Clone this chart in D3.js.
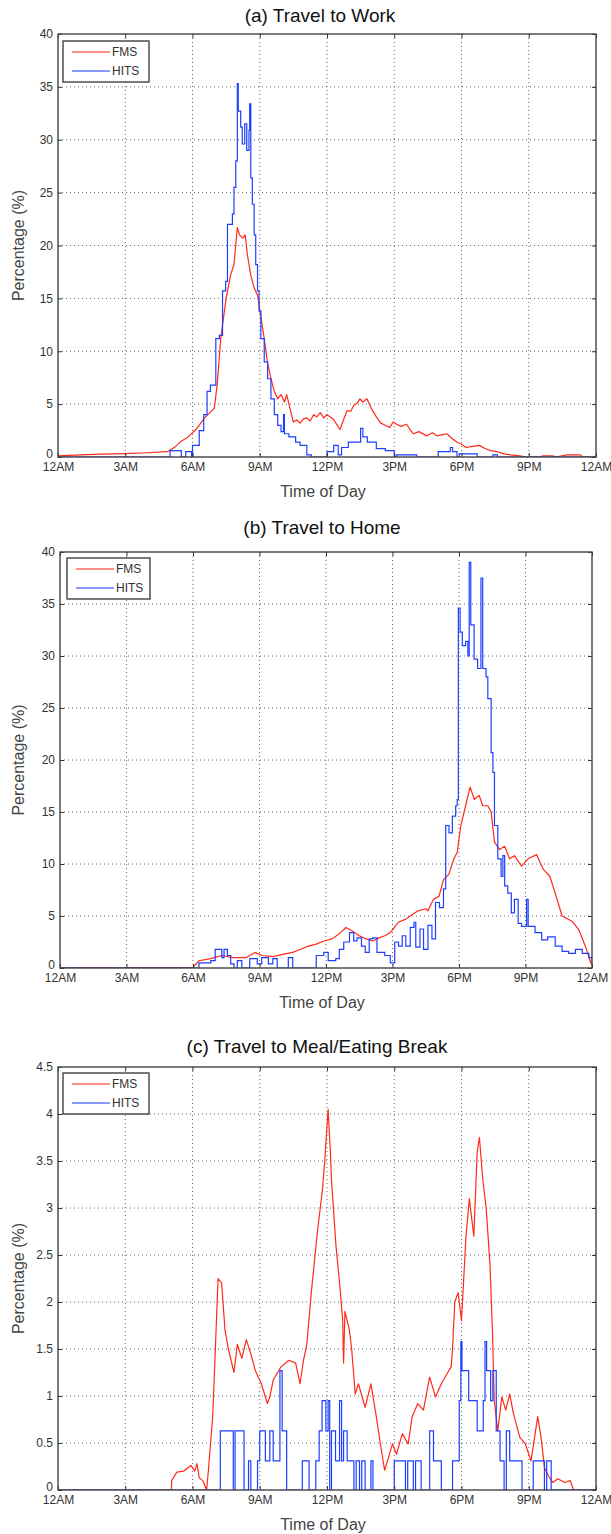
<!DOCTYPE html>
<html>
<head>
<meta charset="utf-8">
<script src="https://cdn.jsdelivr.net/npm/d3@7"></script>
<style>
  body { margin: 0; background: #fff; }
  svg { display: block; font-family: "Liberation Sans", Arial, Helvetica, sans-serif; }
</style>
</head>
<body>
<svg id="chart" width="611" height="1534"></svg>
<script>
// time of day in hours, value in percent

const hourTicks = [0, 3, 6, 9, 12, 15, 18, 21, 24];
const hourLabels = ['12AM', '3AM', '6AM', '9AM', '12PM', '3PM', '6PM', '9PM', '12AM'];
const seriesNames = ['FMS', 'HITS'];

// (a) travel to work
const workFMS = [[0,0.1],[0.5,0.15],[1,0.2],[2,0.28],[3,0.32],[4,0.4],[4.86,0.5],[5.05,0.7],[5.25,1.0],[5.5,1.5],[5.8,1.9],
  [6.2,2.7],[6.5,3.6],[6.97,4.6],[7.1,6.8],[7.26,11.2],[7.5,15],[7.7,17.2],[7.85,18.2],[8.0,21.7],[8.1,21],[8.25,20.7],
  [8.35,21],[8.45,19.1],[8.6,17.2],[8.75,16],[8.9,15.3],[9.04,13.4],[9.2,11.2],[9.34,9],[9.5,7.4],[9.65,6.2],[9.8,5.5],
  [9.95,5.9],[10.1,5.2],[10.2,5.9],[10.35,4.6],[10.5,3.3],[10.65,3.5],[10.8,3.2],[10.95,3.6],[11.1,3.7],[11.25,3.4],
  [11.4,4.0],[11.55,3.8],[11.7,4.2],[11.85,3.7],[12.0,4.0],[12.27,3.6],[12.58,2.6],[12.75,3.6],[12.9,4.4],[13.05,4.3],
  [13.2,4.9],[13.35,5.1],[13.47,5.5],[13.6,5.2],[13.78,5.5],[14.0,4.5],[14.2,3.8],[14.4,3.2],[14.6,3.0],[14.8,2.8],
  [14.95,3.3],[15.1,3.1],[15.3,2.9],[15.55,3.1],[15.7,2.6],[15.85,2.2],[16.1,2.4],[16.45,2.0],[16.7,2.3],[16.9,2.0],
  [17.1,2.1],[17.35,2.2],[17.55,1.8],[17.8,1.4],[18.0,1.2],[18.2,0.9],[18.5,1.0],[18.8,1.1],[19.05,0.8],[19.3,0.6],
  [19.6,0.5],[19.9,0.3],[20.2,0.2],[20.6,0.1],[20.9,0],[21.5,0],[21.6,0.1],[22.1,0.1],[22.2,0],[22.7,0.2],[23.3,0.2],
  [23.4,0],[24,0]];
const workHITS = [[0,0],[5.0,0.6],[5.5,0],[5.7,0.5],[5.96,0],[6.0,1.1],[6.3,2.5],[6.5,4],[6.65,6.2],[6.8,6.8],[7.04,11.2],
  [7.2,11.5],[7.34,15.7],[7.48,16.6],[7.56,22],[7.78,23],[7.85,25.5],[7.93,28],[8.0,35.3],[8.04,32.7],[8.15,31.2],
  [8.22,29.6],[8.33,31.5],[8.42,29],[8.52,30.9],[8.55,33.4],[8.6,26.4],[8.67,23.9],[8.75,21],[8.82,18.2],[8.9,15.7],
  [8.97,13.8],[9.05,11.2],[9.2,9],[9.35,7.4],[9.5,5.5],[9.65,4],[9.8,3],[9.95,2.4],[10.06,4],[10.1,2.2],[10.3,1.9],
  [10.6,1.4],[10.8,1.1],[11.1,0.2],[11.3,0],[12.0,0.5],[12.3,1.1],[12.5,0.2],[12.65,0.9],[12.95,1.4],[13.5,2.7],
  [13.6,1.9],[13.8,1.4],[14.2,0.8],[14.6,0.6],[15.0,0],[15.1,0.2],[16.0,0],[16.96,0.5],[17.5,0.9],[17.6,0.5],[17.8,0],
  [17.9,0.3],[18.7,0],[19.4,0.2],[19.6,0],[24,0]];

// (b) travel to home
const homeFMS = [[0,0],[1.3,0.05],[2.4,0.05],[2.5,0],[3.0,0.05],[6.0,0.05],[6.27,0.7],[6.8,0.9],[7.3,1.2],[7.8,1.0],
  [8.4,1.0],[8.8,1.5],[9.1,1.2],[9.6,1.1],[10.15,1.35],[10.5,1.5],[10.85,1.8],[11.2,2.1],[11.56,2.3],[11.9,2.6],
  [12.27,2.8],[12.6,3.3],[12.9,3.9],[13.15,3.6],[13.5,3.1],[13.8,2.8],[14.1,2.6],[14.4,2.9],[14.65,3.1],[14.9,3.4],
  [15.27,4.4],[15.6,4.7],[15.8,5.0],[16.15,5.5],[16.5,5.7],[16.6,5.5],[16.85,6.6],[17.1,6.9],[17.3,8.5],[17.54,9.0],
  [17.77,10.5],[17.92,11.1],[18.08,13.7],[18.3,15.6],[18.5,17.4],[18.69,16.2],[18.91,16.6],[19.07,15.6],[19.3,15.6],
  [19.45,15],[19.6,12.1],[19.83,11.4],[20.06,11.7],[20.28,10.5],[20.5,10.8],[20.82,9.8],[21.12,10.5],[21.5,10.9],
  [21.8,9.5],[22.1,8.8],[22.34,7.2],[22.65,5.0],[23.1,4.5],[23.4,3.7],[23.7,2.1],[23.94,0.5],[24,0.3]];
const homeHITS = [[0,0],[6.27,0.5],[6.8,0.7],[7.0,1.8],[7.3,1.0],[7.4,1.8],[7.55,1.2],[7.7,0.4],[7.85,0],[8.0,0.7],
  [8.2,0],[8.56,0.9],[8.9,0.4],[9.1,1.0],[9.4,0.4],[9.6,0.9],[9.8,0],[10.3,1.0],[10.5,0],[11.56,1.2],[11.9,1.5],
  [12.1,0.7],[12.44,0.9],[12.6,1.8],[12.8,2.5],[13.06,3.4],[13.25,2.6],[13.4,2.9],[13.6,2.1],[13.77,1.5],[13.95,2.8],
  [14.1,2.9],[14.3,1.5],[14.65,1.2],[14.9,0.5],[15.1,2.5],[15.27,2.1],[15.44,3.1],[15.6,2.1],[15.8,3.9],[15.97,4.4],
  [16.05,2.0],[16.24,3.75],[16.4,1.8],[16.6,4.1],[16.78,2.8],[16.94,6.3],[17.12,5.8],[17.3,7.6],[17.4,13.7],[17.55,13],
  [17.7,14.6],[17.85,15.6],[17.92,16.2],[17.97,34.6],[18.05,32.3],[18.15,31],[18.3,31.4],[18.4,30],[18.46,39],[18.53,33],
  [18.68,29.7],[18.84,28.8],[18.99,37.5],[19.07,28.8],[19.22,28],[19.3,25.9],[19.45,20.7],[19.53,18.8],[19.6,13.7],
  [19.75,10.5],[19.9,8.8],[19.98,10.8],[20.06,7.9],[20.2,7.2],[20.36,5.3],[20.5,6.6],[20.67,4.3],[20.82,4.0],[21.05,6.6],
  [21.12,4.0],[21.43,3.4],[21.73,2.7],[22.0,3.0],[22.34,2.1],[22.65,1.6],[22.95,1.4],[23.25,1.8],[23.56,1.4],[23.86,1.0],
  [24,0.6]];

// (c) travel to meal/eating break
const mealFMS = [[0,0],[5.06,0],[5.07,0.1],[5.3,0.19],[5.6,0.2],[5.93,0.26],[6.1,0.2],[6.2,0.28],[6.3,0.13],[6.46,0.1],
  [6.63,0],[6.72,0.24],[6.9,0.78],[7.0,1.38],[7.14,2.25],[7.3,2.2],[7.45,1.7],[7.6,1.5],[7.85,1.25],[8.0,1.55],[8.2,1.4],
  [8.4,1.6],[8.6,1.45],[8.8,1.27],[9.07,1.13],[9.34,0.92],[9.45,0.99],[9.6,1.17],[9.95,1.31],[10.3,1.38],[10.6,1.35],
  [10.8,1.13],[10.95,1.38],[11.1,1.55],[11.3,2.1],[11.55,2.7],[11.8,3.2],[11.9,3.5],[11.98,3.8],[12.05,4.05],[12.15,3.6],
  [12.2,3.3],[12.4,2.6],[12.6,2.1],[12.7,1.8],[12.74,1.35],[12.8,1.9],[13.0,1.7],[13.1,1.5],[13.26,1.02],[13.4,1.13],
  [13.7,0.88],[13.96,1.13],[14.2,0.78],[14.38,0.49],[14.57,0.21],[14.75,0.35],[14.92,0.49],[15.1,0.38],[15.36,0.6],
  [15.62,0.49],[15.8,0.78],[16.05,0.92],[16.3,0.85],[16.58,1.2],[16.84,0.99],[17.1,1.13],[17.36,1.24],[17.54,1.31],
  [17.6,1.5],[17.7,2.0],[17.85,2.1],[18.0,1.8],[18.2,2.7],[18.35,3.1],[18.55,2.7],[18.7,3.6],[18.8,3.75],[18.95,3.3],
  [19.1,3.0],[19.27,2.4],[19.38,1.7],[19.46,0.95],[19.62,0.63],[19.8,0.99],[19.97,0.85],[20.15,1.02],[20.32,0.81],
  [20.6,0.56],[20.85,0.49],[21.1,0.31],[21.4,0.78],[21.55,0.56],[21.7,0.24],[21.9,0.14],[22.07,0.08],[22.3,0.12],
  [22.6,0.08],[22.85,0.1],[23.0,0],[24,0]];
const mealHITS = [[0,0],[7.24,0.63],[7.82,0],[7.9,0.63],[8.3,0],[8.5,0.31],[8.6,0],[8.9,0.31],[9.0,0.63],[9.25,0.31],
  [9.45,0.63],[9.6,0.31],[9.9,1.27],[10.0,0.63],[10.2,0],[10.9,0.31],[11.2,0],[11.5,0.31],[11.65,0.63],[11.78,0.95],
  [11.95,0.63],[12.05,0.95],[12.12,0],[12.2,0.63],[12.38,0.31],[12.56,0.95],[12.65,0.31],[12.74,0.63],[12.9,0.31],
  [13.2,0],[13.3,0.31],[13.45,0],[13.55,0.31],[13.7,0],[13.96,0.31],[14.05,0],[15.0,0.31],[15.5,0],[15.6,0.31],
  [15.85,0],[15.95,0.31],[16.2,0],[16.58,0.63],[16.75,0.31],[17.1,0],[17.6,0.31],[17.9,0.95],[17.97,1.58],[18.02,1.27],
  [18.32,0.95],[18.7,0.63],[18.97,0.95],[19.05,1.58],[19.12,1.27],[19.3,0.95],[19.4,1.27],[19.55,0.63],[19.72,0.31],
  [19.9,0],[20.0,0.63],[20.15,0.31],[20.7,0],[21.2,0.31],[21.7,0],[21.8,0.31],[22.0,0],[24,0]];

const workTicks = [0, 5, 10, 15, 20, 25, 30, 35, 40];
const homeTicks = [0, 5, 10, 15, 20, 25, 30, 35, 40];
const mealTicks = [0, 0.5, 1, 1.5, 2, 2.5, 3, 3.5, 4, 4.5];

const colors = { FMS: '#ff2a1a', HITS: '#1f3fff' };

// layout of the three panels
const panels = [
  { title: '(a) Travel to Work', fms: workFMS, hits: workHITS, ticks: workTicks,
    left: 58, top: 34, right: 596, bottom: 457, titleX: 320, titleY: 22, legend: [5, 7, 86] },
  { title: '(b) Travel to Home', fms: homeFMS, hits: homeHITS, ticks: homeTicks,
    left: 60, top: 552, right: 592, bottom: 968, titleX: 322, titleY: 534, legend: [7, 6, 83] },
  { title: '(c) Travel to Meal/Eating Break', fms: mealFMS, hits: mealHITS, ticks: mealTicks,
    left: 58, top: 1067, right: 596, bottom: 1490, titleX: 317, titleY: 1053, legend: [5, 6, 86] }
];

const svg = d3.select('#chart');

const drawPanel = (p, idx) => {
  const x = d3.scaleLinear().domain([0, 24]).range([p.left, p.right]);
  const y = d3.scaleLinear().domain([0, d3.max(p.ticks)]).range([p.bottom, p.top]);
  const g = svg.append('g').attr('class', 'panel');

  // dotted grid
  g.append('g').selectAll('line')
    .data(hourTicks.slice(1, -1)).enter().append('line')
      .attr('x1', d => x(d)).attr('x2', d => x(d))
      .attr('y1', p.top).attr('y2', p.bottom)
      .attr('stroke', '#666').attr('stroke-width', 1).attr('stroke-dasharray', '1,3');
  g.append('g').selectAll('line')
    .data(p.ticks.slice(1, -1)).enter().append('line')
      .attr('x1', p.left).attr('x2', p.right)
      .attr('y1', d => y(d)).attr('y2', d => y(d))
      .attr('stroke', '#666').attr('stroke-width', 1).attr('stroke-dasharray', '1,3');

  // lines, clipped to the box
  const clipId = 'clip' + idx;
  svg.append('clipPath').attr('id', clipId).append('rect')
    .attr('x', p.left).attr('y', p.top - 1)
    .attr('width', p.right - p.left).attr('height', p.bottom - p.top + 1);

  const lineFMS = d3.line().x(d => x(d[0])).y(d => y(d[1]));
  const lineHITS = d3.line().x(d => x(d[0])).y(d => y(d[1])).curve(d3.curveStepAfter);
  g.append('path').datum(p.fms)
    .attr('clip-path', `url(#${clipId})`)
    .attr('d', lineFMS).attr('fill', 'none')
    .attr('stroke', colors.FMS).attr('stroke-width', 1.2).attr('stroke-linejoin', 'round');
  g.append('path').datum(p.hits)
    .attr('clip-path', `url(#${clipId})`)
    .attr('d', lineHITS).attr('fill', 'none')
    .attr('stroke', colors.HITS).attr('stroke-width', 1.2);

  // axes, ticks pointing inwards
  const xBottom = g.append('g').attr('transform', `translate(0,${p.bottom})`)
    .call(d3.axisBottom(x).tickValues(hourTicks).tickFormat((d, i) => hourLabels[i]).tickSize(-4).tickPadding(5));
  const yLeft = g.append('g').attr('transform', `translate(${p.left},0)`)
    .call(d3.axisLeft(y).tickValues(p.ticks).tickFormat(d => String(d)).tickSize(-4).tickPadding(5));
  const xTop = g.append('g').attr('transform', `translate(0,${p.top})`)
    .call(d3.axisTop(x).tickValues(hourTicks).tickFormat('').tickSize(-4));
  const yRight = g.append('g').attr('transform', `translate(${p.right},0)`)
    .call(d3.axisRight(y).tickValues(p.ticks).tickFormat('').tickSize(-4));
  [xBottom, yLeft, xTop, yRight].forEach(a => {
    a.select('.domain').remove();
    a.selectAll('.tick line').attr('stroke', '#333');
    a.selectAll('text').attr('fill', '#333').style('font-size', '12px');
  });
  // lift the zero label a little so it clears the 12AM label below it
  yLeft.selectAll('.tick text').filter(d => d === 0).attr('dy', '0.05em');

  g.append('rect')
    .attr('x', p.left).attr('y', p.top)
    .attr('width', p.right - p.left).attr('height', p.bottom - p.top)
    .attr('fill', 'none').attr('stroke', '#444').attr('stroke-width', 1.4);

  // titles and labels
  g.append('text').attr('x', p.titleX).attr('y', p.titleY)
    .attr('text-anchor', 'middle').style('font-size', '19px').attr('fill', '#111')
    .text(p.title);
  g.append('text').attr('x', (p.left + p.right) / 2 - 4).attr('y', p.bottom + 40)
    .attr('text-anchor', 'middle').style('font-size', '16px').attr('fill', '#444')
    .text('Time of Day');
  g.append('text')
    .attr('transform', `translate(24,${(p.top + p.bottom) / 2}) rotate(-90)`)
    .attr('text-anchor', 'middle').style('font-size', '16px').attr('fill', '#444')
    .text('Percentage (%)');

  // legend
  const [lx, ly, lw] = p.legend;
  const lg = g.append('g').attr('transform', `translate(${p.left + lx},${p.top + ly})`);
  lg.append('rect').attr('width', lw).attr('height', 41)
    .attr('fill', '#fff').attr('stroke', '#333').attr('stroke-width', 1.3);
  seriesNames.forEach((name, i) => {
    lg.append('line').attr('x1', 9).attr('x2', 47)
      .attr('y1', 11 + i * 19).attr('y2', 11 + i * 19)
      .attr('stroke', colors[name]).attr('stroke-opacity', 0.7).attr('stroke-width', 1.3);
    lg.append('text').attr('x', 49).attr('y', 15 + i * 19)
      .style('font-size', '12px').attr('fill', '#333').text(name);
  });
};

panels.forEach(drawPanel);
</script>
</body>
</html>
